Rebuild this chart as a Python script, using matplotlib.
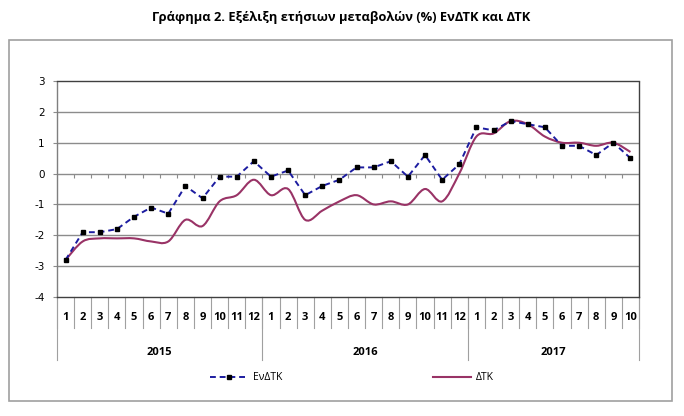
import numpy as np
import matplotlib
matplotlib.use("Agg")
import matplotlib.pyplot as plt
from matplotlib.path import Path
from matplotlib.patches import PathPatch, Rectangle
from matplotlib.lines import Line2D

plt.rcParams["axes.unicode_minus"] = False

# ---------------- data ----------------
years = ["2015", "2016", "2017"]
months_per_year = [12, 12, 10]
month_labels = [str(m) for m in range(1, 13)] * 2 + [str(m) for m in range(1, 11)]

endtk = [-2.8, -1.9, -1.9, -1.8, -1.4, -1.1, -1.3, -0.4, -0.8, -0.1, -0.1, 0.4,
         -0.1, 0.1, -0.7, -0.4, -0.2, 0.2, 0.2, 0.4, -0.1, 0.6, -0.2, 0.3,
         1.5, 1.4, 1.7, 1.6, 1.5, 0.9, 0.9, 0.6, 1.0, 0.5]
dtk = [-2.8, -2.2, -2.1, -2.1, -2.1, -2.2, -2.2, -1.5, -1.7, -0.9, -0.7, -0.2,
       -0.7, -0.5, -1.5, -1.2, -0.9, -0.7, -1.0, -0.9, -1.0, -0.5, -0.9, 0.0,
       1.2, 1.3, 1.7, 1.6, 1.2, 1.0, 1.0, 0.9, 1.0, 0.7]

title = "Γράφημα 2. Εξέλιξη ετήσιων μεταβολών (%) ΕνΔΤΚ και ΔΤΚ"
label_a = "ΕνΔΤΚ"
label_b = "ΔΤΚ"

calibri_like = ["Open Sans", "DejaVu Sans"]
blue = "#1c1ca0"
maroon = "#993366"
grey = "#a0a0a0"


def smooth_path(xs, ys):
    # excel style smoothed line (catmull-rom as cubic bezier)
    pts = np.column_stack([xs, ys])
    n = len(pts)
    verts = [pts[0]]
    codes = [Path.MOVETO]
    for i in range(n - 1):
        p0 = pts[max(i - 1, 0)]
        p1 = pts[i]
        p2 = pts[i + 1]
        p3 = pts[min(i + 2, n - 1)]
        verts += [p1 + (p2 - p0) / 6, p2 - (p3 - p1) / 6, p2]
        codes += [Path.CURVE4] * 3
    return Path(verts, codes)


W, H = 684, 416
fig = plt.figure(figsize=(W / 100, H / 100), dpi=100)
ax = fig.add_axes([57 / W, 1 - 297 / H, (639 - 57) / W, 216 / H])

n = len(endtk)
x = np.arange(n) + 0.5

# grid + zero axis
for yv in range(-3, 3):
    ax.axhline(yv, color="#8c8c8c", lw=1.0, zorder=1)
ax.vlines(np.arange(1, n), -0.13, 0, color="#8c8c8c", lw=0.8, zorder=1)

# series
ax.add_patch(PathPatch(smooth_path(x, dtk), facecolor="none", edgecolor=maroon,
                       lw=1.5, zorder=3))
ax.plot(x, endtk, color=blue, lw=1.4, ls=(0, (3, 2)), marker="s", ms=3.2,
        mfc="black", mec="black", zorder=4)

ax.set_xlim(0, n)
ax.set_ylim(-4, 3)
ax.set_xticks([])
ax.set_yticks(range(-4, 4))
ax.tick_params(axis="y", direction="out", length=3, color="#8c8c8c",
               labelsize=7.5, pad=6)
for s in ax.spines.values():
    s.set_linestyle((0, (2, 1)))
    s.set_linewidth(1.0)
    s.set_color("#404040")
ax.spines["left"].set_color("#7f7f7f")

# category axis below plot
tr = ax.get_xaxis_transform()
for b in range(n + 1):
    ax.plot([b, b], [0, -0.1435], transform=tr, color=grey, lw=0.8, clip_on=False)
edges = np.concatenate([[0], np.cumsum(months_per_year)])
for b in edges:
    ax.plot([b, b], [0, -0.292], transform=tr, color=grey, lw=0.8, clip_on=False)
for xi, lab in zip(x, month_labels):
    ax.text(xi, -0.097, lab, transform=tr, ha="center", va="center",
            fontsize=8, fontweight="bold", family=calibri_like)
for i, yr in enumerate(years):
    ax.text((edges[i] + edges[i + 1]) / 2, -0.255, yr, transform=tr,
            ha="center", va="center", fontsize=8, fontweight="bold",
            family=calibri_like)

# legend
handles = [Line2D([], [], color=blue, lw=1.4, ls=(0, (3, 2)), marker="s", ms=3.2,
                  mfc="black", mec="black"),
           Line2D([], [], color=maroon, lw=1.5)]
fig.legend(handles, [label_a, label_b], ncol=2, loc="center",
           bbox_to_anchor=(352 / W, 1 - 378 / H), frameon=False,
           handlelength=3.6, handletextpad=0.5, columnspacing=14.5,
           numpoints=1, prop={"family": calibri_like, "size": 7.5})

# outer frame and title
fig.add_artist(Rectangle((9 / W, 1 - 401 / H), (672 - 9) / W, (401 - 40) / H,
                         transform=fig.transFigure, fill=False,
                         edgecolor=grey, lw=1.2))
fig.text(341 / W, 1 - 17 / H, title, ha="center", va="center", fontsize=9.3,
         fontweight="bold", family=calibri_like)

fig.savefig("out.png", dpi=100)
